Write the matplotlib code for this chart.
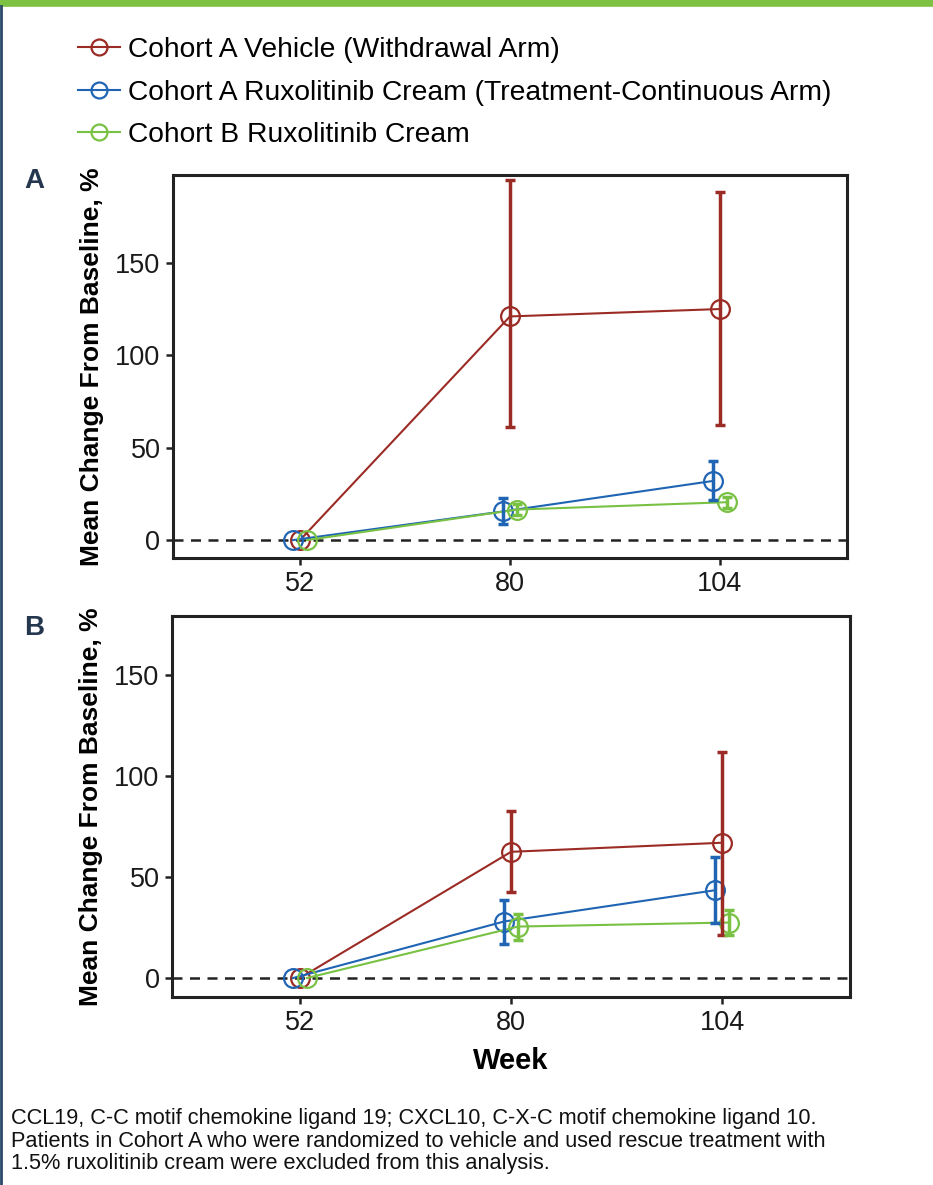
import matplotlib.pyplot as plt
from matplotlib.lines import Line2D

plt.rcParams['font.family'] = ['Liberation Sans', 'DejaVu Sans']

weeks = ['52', '80', '104']
series_names = ['Cohort A Vehicle (Withdrawal Arm)',
                'Cohort A Ruxolitinib Cream (Treatment-Continuous Arm)',
                'Cohort B Ruxolitinib Cream']
colors = ['#9B2B25', '#1F65B4', '#79C143']
offsets = [0.0, -0.033, 0.033]

# Panel A
a_mean = [[0, 121, 125], [0, 15.5, 32], [0, 16.5, 20.5]]
a_lo = [[0, 61, 62], [0, 8.5, 21.5], [0, 13.5, 17.5]]
a_hi = [[0, 195, 188.5], [0, 22.5, 43], [0, 19.5, 23.5]]

# Panel B
b_mean = [[0, 62.5, 67], [0, 28, 43.5], [0, 25.5, 27.5]]
b_lo = [[0, 42.5, 21.5], [0, 17, 27.5], [0, 19, 21.5]]
b_hi = [[0, 82.5, 112], [0, 38.5, 60], [0, 31.5, 33.5]]

fig = plt.figure(figsize=(9.33, 11.85), dpi=100)

# decorations: green top bar and left border
fig.add_artist(Line2D([0, 1], [0.9975, 0.9975], color='#7CC142', lw=5.5))
fig.add_artist(Line2D([0.001, 0.001], [0, 0.995], color='#2B4868', lw=2))


def draw_panel(ax, means, los, his, ylim):
    handles = []
    x = list(range(len(weeks)))
    ax.axhline(0, color='#222222', lw=1.8, ls=(0, (4, 3)), zorder=1)
    for i in range(3):
        xs = [v + offsets[i] for v in x]
        h, = ax.plot(xs, means[i], color=colors[i], lw=1.5, marker='o', ms=13.5,
                     mfc='none', mec=colors[i], mew=1.6, zorder=3,
                     label=series_names[i])
        handles.append(h)
        yerr = [[m - l for m, l in zip(means[i], los[i])],
                [hh - m for hh, m in zip(his[i], means[i])]]
        ax.errorbar(xs[1:], means[i][1:], yerr=[yerr[0][1:], yerr[1][1:]],
                    fmt='none', ecolor=colors[i], elinewidth=2.5,
                    capsize=3.3, capthick=2.5, zorder=4)
    ax.set_xlim(-0.605, 2.605)
    ax.set_ylim(*ylim)
    ax.set_xticks(x)
    ax.set_xticklabels(weeks)
    ax.set_yticks([0, 50, 100, 150])
    ax.tick_params(axis='both', labelsize=19.5, width=1.8, length=5,
                   colors='#222222', labelcolor='#1a1a1a', pad=4)
    for s in ax.spines.values():
        s.set_linewidth(2.2)
        s.set_color('#222222')
    ax.set_ylabel('Mean Change From Baseline, %', fontsize=19,
                  fontweight='bold', labelpad=8)
    return handles


ax1 = fig.add_axes([0.1854, 0.5291, 0.7224, 0.3232])
handles = draw_panel(ax1, a_mean, a_lo, a_hi, (-9.7, 197.5))

ax2 = fig.add_axes([0.1844, 0.1586, 0.7267, 0.3215])
draw_panel(ax2, b_mean, b_lo, b_hi, (-9.4, 179.2))
ax2.set_xlabel('Week', fontsize=21, fontweight='bold', labelpad=8)

fig.text(0.026, 0.841, 'A', fontsize=20, fontweight='bold', color='#24374F')
fig.text(0.026, 0.464, 'B', fontsize=20, fontweight='bold', color='#24374F')

fig.legend(handles=handles, loc='upper left', bbox_to_anchor=(0.056, 0.99),
           frameon=False, fontsize=20.3, handlelength=1.5, handletextpad=0.3,
           labelspacing=0.58, markerscale=0.85)

footer = ('CCL19, C-C motif chemokine ligand 19; CXCL10, C-X-C motif chemokine ligand 10.\n'
          'Patients in Cohort A who were randomized to vehicle and used rescue treatment with\n'
          '1.5% ruxolitinib cream were excluded from this analysis.')
fig.text(0.012, 1 - 1108 / 1185, footer, fontsize=15.7, va='top', linespacing=1.1,
         color='#111111')

fig.savefig('out.png', dpi=100)
